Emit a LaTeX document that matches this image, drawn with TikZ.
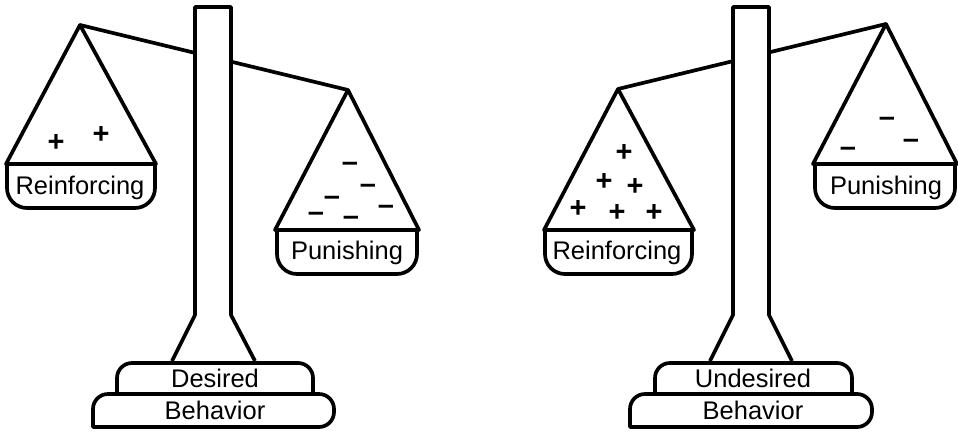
\documentclass[tikz,border=0pt]{standalone}
\usepackage{fontspec}
\setmainfont{Liberation Sans}
\usetikzlibrary{positioning}

\begin{document}
\begin{tikzpicture}[x=0.02cm,y=-0.02cm,line width=2.1pt,line join=round,
  lbl/.style={font=\fontsize{14.5}{16}\selectfont,inner sep=0pt},
  sgn/.style={font=\fontsize{16.5}{18}\selectfont\bfseries,inner sep=0pt},
  bowl/.style={rounded corners=0.4cm},
  tier/.style={rounded corners=0.3cm}]
\useasboundingbox (0,0) rectangle (958,433);
% left scale
\draw (80,25) -- (348,90);
\draw[fill=white] (172,361) -- (195,315) -- (195,7) -- (231,7) -- (231,315) -- (255,361);
\draw (80,25) -- (6,164) -- (156,164) -- cycle;
\draw[bowl] (7,164) -- (7,208) -- (155,208) -- (155,164);
\draw (348,90) -- (275,230) -- (419,230) -- cycle;
\draw[bowl] (277,230) -- (277,274) -- (417,274) -- (417,230);
\draw[tier] (117,394) -- (117,363) -- (313,363) -- (313,394);
\draw (93,427) [tier] -- (93,394) -- (334,394) -- (334,427) [sharp corners] -- cycle;
\node[lbl] (lR) at (80,188) {Reinforcing};
\node[lbl] (lP) at (347,253) {Punishing};
\node[lbl] (lD) at (215,378) {Desired};
\node[lbl] (lB) at (215,410) {Behavior};
\foreach \p [count=\i] in {(56,143),(101,135)}
  \node[sgn] (lp\i) at \p {+};
\foreach \p [count=\i] in {(350,167),(368,189),(332,201),(386,210),(316,217),(351,221)}
  \node[sgn] (lm\i) at \p {–};
% right scale
\draw (618,89) -- (886,24);
\draw[fill=white] (710,361) -- (733,315) -- (733,7) -- (769,7) -- (769,315) -- (792,361);
\draw (618,89) -- (544,230) -- (694,230) -- cycle;
\draw[bowl] (545,230) -- (545,274) -- (692,274) -- (692,230);
\draw (886,24) -- (813,164) -- (957,164) -- cycle;
\draw[bowl] (815,164) -- (815,208) -- (955,208) -- (955,164);
\draw[tier] (655,394) -- (655,363) -- (852,363) -- (852,394);
\draw (630,427) [tier] -- (630,394) -- (872,394) -- (872,427) [sharp corners] -- cycle;
\node[lbl] (rR) at (617,253) {Reinforcing};
\node[lbl] (rP) at (886,188) {Punishing};
\node[lbl] (rU) at (753,378) {Undesired};
\node[lbl] (rB) at (753,410) {Behavior};
\foreach \p [count=\i] in {(624,153),(604,182),(635,187),(578,209),(617,213),(654,213)}
  \node[sgn] (rp\i) at \p {+};
\foreach \p [count=\i] in {(887,122),(911,144),(848,152)}
  \node[sgn] (rm\i) at \p {–};
\end{tikzpicture}
\end{document}
